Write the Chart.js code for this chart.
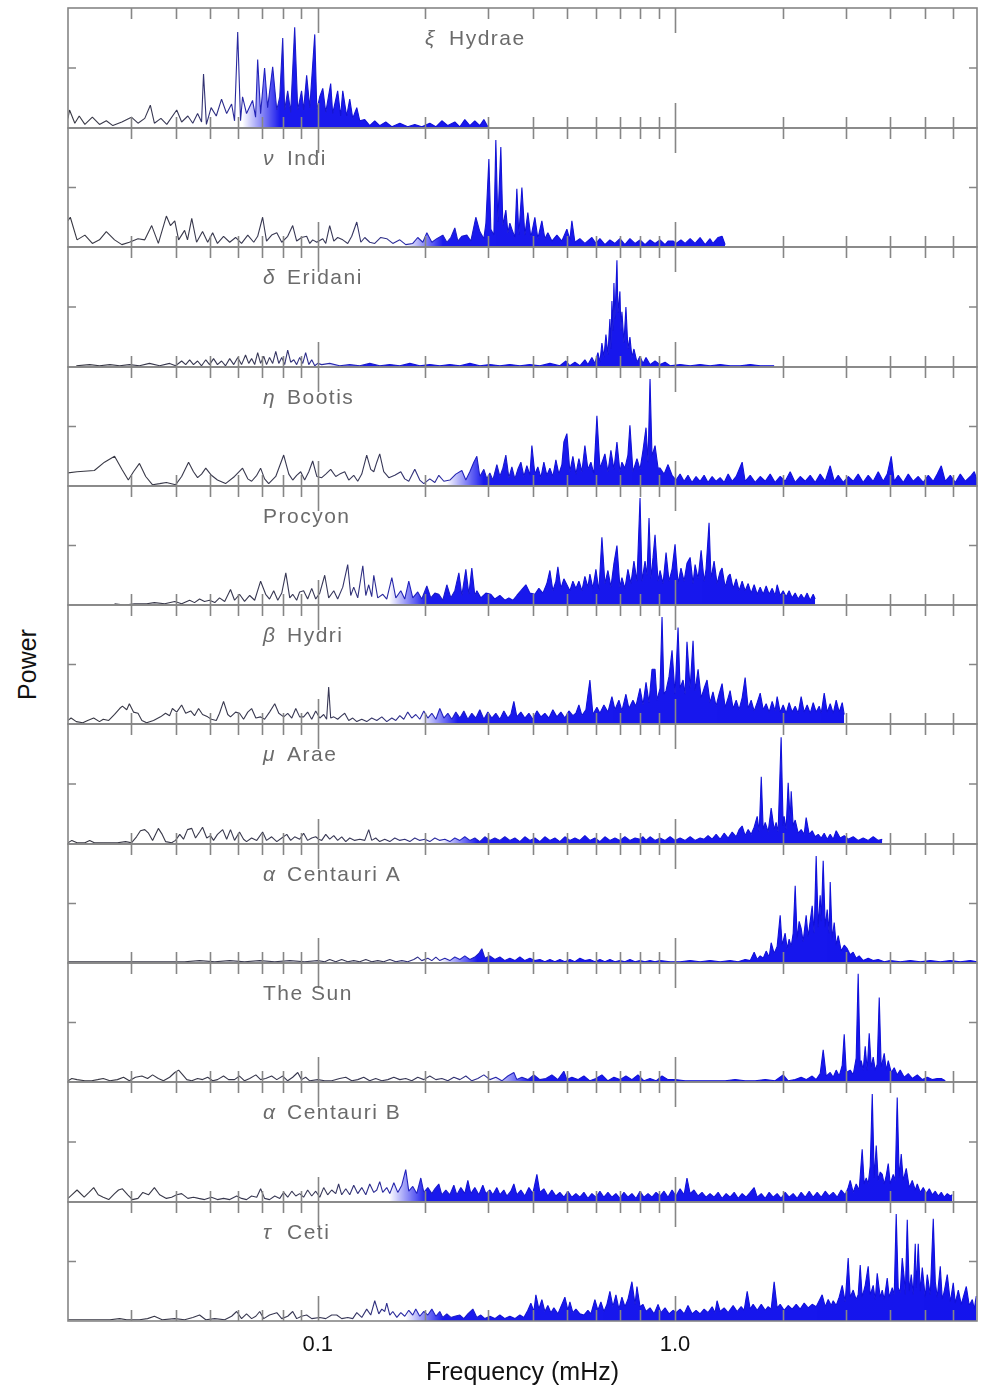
<!DOCTYPE html>
<html>
<head>
<meta charset="utf-8">
<script src="https://cdn.jsdelivr.net/npm/chart.js@4.4.1/dist/chart.umd.min.js"></script>
<style>
  body { margin: 0; background: #fff; }
  #wrap { position: relative; width: 986px; height: 1385px; background: #fff; overflow: hidden; }
  #wrap canvas { position: absolute; left: 0; }
  #power { position: absolute; left: -23px; top: 650px; width: 100px; line-height: 30px; text-align: center;
           transform: rotate(-90deg); font: 25px "Liberation Sans", Arial, sans-serif; color: #111; }
</style>
</head>
<body>
<div id="wrap"><div id="power">Power</div></div>
<script>
// frequency range (mHz) and tick marks
const freqMin = 0.02;
const freqMax = 7;
const minorTicks = [0.03, 0.04, 0.05, 0.06, 0.07, 0.08, 0.09, 0.2, 0.3, 0.4, 0.5, 0.6, 0.7, 0.8, 0.9, 2, 3, 4, 5, 6];
const majorTicks = [0.1, 1];
const tickLabels = ['0.1', '1.0'];

// spectra: [frequency mHz, power (0-100 of panel height)]
const xiHydrae = [[0.0200,8],[0.0202,15],[0.0209,4],[0.0215,10],[0.0223,3],[0.0234,9],[0.0245,3],[0.0256,6],[0.0267,2],[0.0283,5],[0.0301,9],[0.0314,4],[0.0328,8],[0.0340,19],[0.0349,4],[0.0364,8],[0.0378,3],[0.0403,15],[0.0416,5],[0.0433,10],[0.0447,4],[0.0461,12],[0.0473,5],[0.0479,45],[0.0488,3],[0.0503,17],[0.0520,10],[0.0538,24],[0.0556,12],[0.0574,20],[0.0585,6],[0.0597,80],[0.0608,6],[0.0616,26],[0.0632,12],[0.0657,23],[0.0670,9],[0.0679,57],[0.0692,12],[0.0710,50],[0.0724,17],[0.0748,51],[0.0768,15],[0.0783,26],[0.0798,75],[0.0808,15],[0.0824,31],[0.0840,13],[0.0862,84],[0.0879,15],[0.0901,31],[0.0913,15],[0.0931,44],[0.0950,17],[0.0981,78],[0.0994,15],[0.1013,26],[0.1033,33],[0.1053,13],[0.1087,37],[0.1101,12],[0.1137,31],[0.1159,10],[0.1175,31],[0.1205,10],[0.1229,24],[0.1253,8],[0.1286,17],[0.1311,6],[0.1354,7],[0.1398,2],[0.1444,6],[0.1491,2],[0.1550,5],[0.1612,1],[0.1697,4],[0.1786,1],[0.1869,3],[0.1955,1],[0.2059,4],[0.2141,1],[0.2225,6],[0.2313,2],[0.2419,5],[0.2499,1],[0.2580,7],[0.2665,2],[0.2752,6],[0.2842,2],[0.2917,7],[0.2993,1]];

const nuIndi = [[0.0200,22],[0.0203,25],[0.0212,6],[0.0223,10],[0.0234,3],[0.0245,6],[0.0256,13],[0.0270,6],[0.0283,2],[0.0297,4],[0.0314,7],[0.0328,6],[0.0343,18],[0.0358,3],[0.0377,26],[0.0387,18],[0.0398,22],[0.0408,6],[0.0424,14],[0.0432,6],[0.0444,24],[0.0458,4],[0.0476,13],[0.0492,4],[0.0508,12],[0.0524,3],[0.0545,9],[0.0567,4],[0.0589,8],[0.0612,3],[0.0637,10],[0.0662,4],[0.0679,9],[0.0701,25],[0.0719,5],[0.0743,10],[0.0768,12],[0.0793,4],[0.0824,9],[0.0851,18],[0.0873,5],[0.0901,8],[0.0931,9],[0.0950,3],[0.0968,6],[0.0994,4],[0.1033,7],[0.1053,3],[0.1080,18],[0.1109,5],[0.1137,8],[0.1175,6],[0.1213,3],[0.1245,9],[0.1286,21],[0.1320,4],[0.1354,8],[0.1398,4],[0.1444,3],[0.1501,8],[0.1560,7],[0.1622,3],[0.1697,6],[0.1763,2],[0.1845,3],[0.1905,8],[0.1968,4],[0.2020,12],[0.2086,4],[0.2154,7],[0.2239,10],[0.2298,4],[0.2358,8],[0.2419,16],[0.2467,5],[0.2531,9],[0.2614,10],[0.2682,5],[0.2770,25],[0.2842,13],[0.2917,7],[0.2955,20],[0.3013,74],[0.3051,15],[0.3111,10],[0.3151,90],[0.3192,21],[0.3254,84],[0.3297,18],[0.3361,31],[0.3405,12],[0.3449,20],[0.3494,15],[0.3562,8],[0.3608,49],[0.3655,10],[0.3727,50],[0.3799,10],[0.3873,29],[0.3949,8],[0.4052,25],[0.4131,7],[0.4239,22],[0.4322,7],[0.4406,12],[0.4522,5],[0.4670,10],[0.4823,5],[0.4981,15],[0.5078,6],[0.5144,22],[0.5245,4],[0.5416,7],[0.5594,3],[0.5852,8],[0.6005,3],[0.6162,7],[0.6364,2],[0.6572,6],[0.6788,3],[0.7010,7],[0.7240,2],[0.7477,7],[0.7727,3],[0.7980,6],[0.8241,2],[0.8511,6],[0.8790,3],[0.9078,6],[0.9376,2],[0.9558,5],[0.9872,5],[1.0065,3],[1.039,6],[1.067,3],[1.102,7],[1.138,3],[1.175,8],[1.214,2],[1.253,7],[1.277,3],[1.320,8],[1.354,9],[1.381,2]];

const deltaEridani = [[0.0211,1],[0.0230,2],[0.0245,1],[0.0262,2],[0.0279,1],[0.0297,2],[0.0317,1],[0.0338,3],[0.0361,1],[0.0385,3],[0.0400,1],[0.0416,5],[0.0427,2],[0.0438,6],[0.0449,2],[0.0461,5],[0.0473,1],[0.0486,6],[0.0498,2],[0.0511,7],[0.0524,2],[0.0538,5],[0.0552,1],[0.0567,7],[0.0582,2],[0.0597,8],[0.0612,2],[0.0628,10],[0.0641,3],[0.0653,7],[0.0666,2],[0.0679,12],[0.0692,3],[0.0706,9],[0.0719,2],[0.0733,8],[0.0748,3],[0.0763,13],[0.0778,3],[0.0793,8],[0.0808,2],[0.0824,14],[0.0840,4],[0.0857,6],[0.0873,2],[0.0890,8],[0.0908,3],[0.0925,12],[0.0944,2],[0.0962,6],[0.0981,1],[0.1000,3],[0.1026,2],[0.1080,3],[0.1152,1],[0.1229,2],[0.1311,1],[0.1398,3],[0.1491,1],[0.1591,2],[0.1697,1],[0.1810,3],[0.1930,1],[0.2059,2],[0.2196,1],[0.2343,2],[0.2499,1],[0.2665,3],[0.2842,1],[0.3032,2],[0.3234,1],[0.3449,2],[0.3679,1],[0.3924,2],[0.4185,1],[0.4464,3],[0.4761,1],[0.4949,5],[0.5078,1],[0.5245,4],[0.5416,1],[0.5594,6],[0.5703,2],[0.5852,8],[0.5966,3],[0.6083,12],[0.6162,4],[0.6242,20],[0.6323,8],[0.6406,27],[0.6489,10],[0.6572,40],[0.6615,15],[0.6658,55],[0.6701,30],[0.6745,70],[0.6788,40],[0.6877,89],[0.6921,45],[0.7010,63],[0.7056,30],[0.7101,46],[0.7194,20],[0.7287,50],[0.7381,15],[0.7477,25],[0.7574,8],[0.7673,15],[0.7824,4],[0.7980,9],[0.8135,3],[0.8294,8],[0.8511,2],[0.8790,5],[0.9078,2],[0.9376,4],[0.9683,1],[1.033,2],[1.102,1],[1.175,2],[1.253,1],[1.337,2],[1.426,1],[1.521,1],[1.623,2],[1.731,1],[1.894,1]];

const etaBootis = [[0.0200,11],[0.0212,12],[0.0237,13],[0.0253,20],[0.0270,25],[0.0283,14],[0.0295,5],[0.0305,12],[0.0317,19],[0.0330,8],[0.0345,1],[0.0361,2],[0.0377,3],[0.0400,1],[0.0416,8],[0.0435,20],[0.0449,12],[0.0461,7],[0.0473,10],[0.0486,15],[0.0504,9],[0.0524,5],[0.0552,2],[0.0585,8],[0.0616,15],[0.0637,6],[0.0653,4],[0.0675,9],[0.0692,15],[0.0710,6],[0.0729,2],[0.0763,8],[0.0803,26],[0.0830,10],[0.0851,5],[0.0873,9],[0.0896,12],[0.0919,5],[0.0944,12],[0.0968,21],[0.0994,8],[0.1026,7],[0.1053,10],[0.1087,14],[0.1123,8],[0.1152,10],[0.1190,12],[0.1221,5],[0.1261,9],[0.1294,4],[0.1328,10],[0.1371,26],[0.1407,14],[0.1435,12],[0.1463,20],[0.1491,27],[0.1530,12],[0.1581,7],[0.1643,9],[0.1708,12],[0.1752,6],[0.1798,4],[0.1869,14],[0.1930,5],[0.1981,2],[0.2059,6],[0.2127,3],[0.2182,9],[0.2254,4],[0.2343,5],[0.2435,10],[0.2531,13],[0.2597,5],[0.2665,12],[0.2734,20],[0.2788,25],[0.2842,8],[0.2917,14],[0.2974,6],[0.3032,11],[0.3091,5],[0.3172,18],[0.3234,8],[0.3297,15],[0.3361,26],[0.3427,7],[0.3494,16],[0.3562,6],[0.3631,14],[0.3703,20],[0.3775,8],[0.3849,17],[0.3924,9],[0.3975,34],[0.4052,10],[0.4131,16],[0.4212,7],[0.4294,20],[0.4378,9],[0.4464,15],[0.4551,8],[0.4640,22],[0.4730,10],[0.4823,18],[0.4885,37],[0.4981,44],[0.5078,12],[0.5177,25],[0.5279,10],[0.5382,23],[0.5487,12],[0.5594,34],[0.5703,14],[0.5815,20],[0.5928,10],[0.6044,59],[0.6162,15],[0.6282,22],[0.6364,27],[0.6489,12],[0.6615,30],[0.6745,14],[0.6877,37],[0.7010,12],[0.7101,20],[0.7240,15],[0.7381,26],[0.7477,51],[0.7624,12],[0.7824,23],[0.7980,14],[0.8135,30],[0.8294,49],[0.8402,20],[0.8511,90],[0.8621,25],[0.8790,34],[0.8962,15],[0.9078,15],[0.9316,10],[0.9558,18],[0.9808,9],[1.0065,5],[1.033,10],[1.060,4],[1.087,9],[1.116,3],[1.145,8],[1.175,4],[1.206,9],[1.237,3],[1.270,8],[1.303,4],[1.337,7],[1.372,3],[1.408,10],[1.445,4],[1.483,8],[1.541,20],[1.571,4],[1.623,9],[1.676,3],[1.731,8],[1.788,4],[1.846,10],[1.906,3],[1.969,8],[2.033,4],[2.100,12],[2.169,3],[2.240,8],[2.313,4],[2.389,9],[2.467,3],[2.548,10],[2.632,4],[2.718,17],[2.789,4],[2.862,9],[2.956,3],[3.052,8],[3.152,4],[3.255,10],[3.362,3],[3.472,9],[3.586,4],[3.704,12],[3.825,4],[3.925,10],[4.028,25],[4.106,4],[4.213,9],[4.352,3],[4.495,10],[4.642,4],[4.794,8],[4.951,3],[5.113,9],[5.281,4],[5.418,10],[5.561,17],[5.706,4],[5.893,9],[6.086,3],[6.286,10],[6.492,4],[6.704,8],[6.879,12],[7.0,5]];

const procyon = [[0.0270,1],[0.0288,0],[0.0307,1],[0.0332,1],[0.0349,2],[0.0373,1],[0.0398,3],[0.0416,1],[0.0438,4],[0.0452,2],[0.0467,5],[0.0482,3],[0.0498,4],[0.0515,2],[0.0531,6],[0.0549,3],[0.0570,13],[0.0585,4],[0.0604,9],[0.0624,3],[0.0645,8],[0.0666,4],[0.0692,20],[0.0715,9],[0.0733,5],[0.0753,12],[0.0773,4],[0.0793,10],[0.0814,27],[0.0835,6],[0.0851,9],[0.0873,4],[0.0890,11],[0.0913,12],[0.0937,5],[0.0962,14],[0.0987,5],[0.1013,10],[0.1046,25],[0.1073,6],[0.1109,12],[0.1137,5],[0.1175,15],[0.1213,34],[0.1237,8],[0.1261,15],[0.1294,6],[0.1337,33],[0.1363,8],[0.1389,17],[0.1416,7],[0.1435,25],[0.1472,6],[0.1521,9],[0.1560,5],[0.1612,23],[0.1654,6],[0.1708,12],[0.1752,5],[0.1798,20],[0.1845,6],[0.1905,11],[0.1955,5],[0.2020,16],[0.2072,6],[0.2127,10],[0.2182,9],[0.2239,4],[0.2298,17],[0.2358,6],[0.2419,12],[0.2483,27],[0.2531,8],[0.2597,30],[0.2648,9],[0.2699,31],[0.2752,8],[0.2788,12],[0.2860,6],[0.2955,10],[0.3051,9],[0.3131,5],[0.3234,8],[0.3340,4],[0.3427,6],[0.3517,4],[0.3608,8],[0.3703,12],[0.3824,17],[0.3924,10],[0.4052,9],[0.4158,14],[0.4267,10],[0.4378,18],[0.4464,29],[0.4551,12],[0.4640,20],[0.4700,32],[0.4792,14],[0.4885,22],[0.4981,17],[0.5078,12],[0.5177,20],[0.5279,14],[0.5382,20],[0.5487,12],[0.5594,24],[0.5703,15],[0.5777,26],[0.5889,14],[0.6005,30],[0.6122,12],[0.6242,57],[0.6364,18],[0.6489,29],[0.6615,15],[0.6745,35],[0.6877,50],[0.7010,15],[0.7101,23],[0.7240,14],[0.7381,30],[0.7525,18],[0.7673,37],[0.7824,20],[0.7980,90],[0.8083,20],[0.8241,37],[0.8348,25],[0.8456,73],[0.8566,22],[0.8677,40],[0.8790,59],[0.8962,20],[0.9078,29],[0.9256,18],[0.9437,44],[0.9621,20],[0.9808,30],[1.0000,51],[1.0195,18],[1.039,31],[1.060,20],[1.080,35],[1.102,40],[1.123,18],[1.138,34],[1.160,22],[1.183,46],[1.206,20],[1.221,30],[1.245,69],[1.261,22],[1.286,37],[1.311,18],[1.337,28],[1.354,31],[1.381,15],[1.408,24],[1.426,26],[1.454,14],[1.483,22],[1.511,12],[1.541,20],[1.571,12],[1.602,18],[1.633,10],[1.665,17],[1.698,9],[1.731,15],[1.765,9],[1.799,16],[1.834,9],[1.870,14],[1.906,8],[1.931,17],[1.969,8],[2.007,12],[2.046,7],[2.086,12],[2.127,6],[2.169,10],[2.211,5],[2.254,9],[2.298,5],[2.343,10],[2.389,4],[2.436,9],[2.467,5]];

const betaHydri = [[0.0200,3],[0.0204,5],[0.0211,2],[0.0220,1],[0.0227,3],[0.0236,5],[0.0245,2],[0.0251,4],[0.0260,3],[0.0270,8],[0.0279,13],[0.0284,15],[0.0292,12],[0.0297,17],[0.0305,10],[0.0314,9],[0.0322,3],[0.0332,1],[0.0347,3],[0.0363,6],[0.0375,9],[0.0385,7],[0.0392,13],[0.0403,10],[0.0416,16],[0.0427,9],[0.0441,11],[0.0452,7],[0.0464,13],[0.0476,8],[0.0492,6],[0.0504,4],[0.0520,3],[0.0531,9],[0.0545,19],[0.0560,8],[0.0570,6],[0.0589,10],[0.0604,9],[0.0620,4],[0.0637,10],[0.0653,13],[0.0671,5],[0.0692,6],[0.0710,4],[0.0733,10],[0.0758,17],[0.0778,9],[0.0803,6],[0.0824,9],[0.0846,5],[0.0868,13],[0.0890,6],[0.0913,6],[0.0937,10],[0.0962,4],[0.0987,11],[0.1013,5],[0.1039,8],[0.1059,4],[0.1073,31],[0.1087,5],[0.1109,6],[0.1137,4],[0.1167,7],[0.1190,9],[0.1221,3],[0.1253,5],[0.1286,2],[0.1328,4],[0.1371,2],[0.1416,5],[0.1463,3],[0.1511,6],[0.1560,2],[0.1612,5],[0.1654,3],[0.1697,7],[0.1741,4],[0.1786,10],[0.1833,5],[0.1881,8],[0.1930,4],[0.1981,11],[0.2033,5],[0.2086,9],[0.2141,4],[0.2196,13],[0.2254,5],[0.2313,9],[0.2373,4],[0.2435,10],[0.2499,5],[0.2564,11],[0.2631,4],[0.2699,9],[0.2770,5],[0.2842,12],[0.2917,4],[0.2993,10],[0.3071,5],[0.3151,9],[0.3234,4],[0.3318,11],[0.3405,5],[0.3472,8],[0.3539,19],[0.3608,6],[0.3703,10],[0.3799,5],[0.3899,9],[0.4000,4],[0.4105,11],[0.4212,6],[0.4322,9],[0.4435,5],[0.4551,12],[0.4670,6],[0.4792,10],[0.4917,5],[0.5045,11],[0.5177,7],[0.5279,9],[0.5382,16],[0.5487,7],[0.5630,12],[0.5777,37],[0.5889,8],[0.6044,14],[0.6162,9],[0.6323,16],[0.6489,10],[0.6658,23],[0.6788,12],[0.6965,20],[0.7101,11],[0.7287,25],[0.7429,13],[0.7624,20],[0.7773,15],[0.7980,30],[0.8135,16],[0.8294,35],[0.8456,18],[0.8621,46],[0.8790,46],[0.8902,20],[0.9078,30],[0.9195,90],[0.9315,25],[0.9437,28],[0.9621,40],[0.9808,62],[1.0000,25],[1.0195,81],[1.033,30],[1.053,37],[1.067,25],[1.080,69],[1.102,30],[1.123,70],[1.138,28],[1.160,46],[1.183,22],[1.206,30],[1.229,37],[1.253,18],[1.277,27],[1.303,15],[1.328,25],[1.354,34],[1.381,14],[1.408,22],[1.426,28],[1.454,13],[1.483,20],[1.511,12],[1.541,22],[1.571,39],[1.602,13],[1.633,20],[1.665,11],[1.698,18],[1.731,26],[1.765,12],[1.799,17],[1.834,10],[1.870,19],[1.906,11],[1.931,23],[1.969,10],[2.007,16],[2.046,9],[2.086,18],[2.127,10],[2.169,15],[2.211,9],[2.254,23],[2.298,10],[2.343,16],[2.389,9],[2.436,18],[2.483,10],[2.532,15],[2.565,9],[2.615,26],[2.666,10],[2.718,17],[2.771,9],[2.825,20],[2.880,10],[2.937,18],[2.975,8]];

const muArae = [[0.0200,1],[0.0205,3],[0.0212,1],[0.0223,1],[0.0230,3],[0.0237,1],[0.0248,1],[0.0262,1],[0.0275,1],[0.0290,2],[0.0301,1],[0.0311,6],[0.0319,11],[0.0328,12],[0.0336,9],[0.0345,3],[0.0358,13],[0.0367,8],[0.0375,2],[0.0390,1],[0.0400,3],[0.0411,8],[0.0421,4],[0.0432,12],[0.0444,13],[0.0455,5],[0.0467,10],[0.0476,14],[0.0489,5],[0.0501,7],[0.0511,3],[0.0524,8],[0.0542,12],[0.0556,4],[0.0570,12],[0.0585,3],[0.0604,10],[0.0620,4],[0.0632,2],[0.0653,5],[0.0675,3],[0.0701,10],[0.0719,3],[0.0743,6],[0.0768,2],[0.0793,5],[0.0819,8],[0.0840,3],[0.0862,6],[0.0890,4],[0.0913,9],[0.0937,3],[0.0962,5],[0.0987,6],[0.1007,4],[0.1026,3],[0.1053,8],[0.1080,4],[0.1109,7],[0.1137,3],[0.1167,6],[0.1198,2],[0.1229,5],[0.1269,3],[0.1311,4],[0.1354,3],[0.1389,12],[0.1416,3],[0.1453,5],[0.1491,2],[0.1540,4],[0.1591,2],[0.1643,5],[0.1697,3],[0.1752,4],[0.1810,2],[0.1869,5],[0.1930,3],[0.1994,4],[0.2059,2],[0.2127,5],[0.2196,3],[0.2268,4],[0.2343,2],[0.2419,5],[0.2499,3],[0.2580,6],[0.2665,3],[0.2752,5],[0.2842,2],[0.2936,6],[0.3032,3],[0.3131,5],[0.3234,3],[0.3340,6],[0.3449,3],[0.3562,5],[0.3679,2],[0.3799,6],[0.3924,3],[0.4052,5],[0.4185,2],[0.4322,6],[0.4464,3],[0.4610,5],[0.4761,2],[0.4917,6],[0.5078,3],[0.5245,5],[0.5416,3],[0.5594,7],[0.5777,3],[0.5966,5],[0.6162,2],[0.6364,6],[0.6572,3],[0.6788,5],[0.7010,3],[0.7240,6],[0.7477,3],[0.7727,5],[0.7980,4],[0.8135,6],[0.8294,3],[0.8511,6],[0.8790,3],[0.9078,5],[0.9376,3],[0.9683,6],[1.0000,3],[1.033,5],[1.067,3],[1.102,6],[1.138,3],[1.175,5],[1.206,4],[1.237,7],[1.270,4],[1.303,8],[1.337,4],[1.372,9],[1.408,5],[1.445,10],[1.483,6],[1.511,12],[1.541,15],[1.571,7],[1.602,12],[1.633,8],[1.665,14],[1.698,23],[1.720,10],[1.743,56],[1.765,12],[1.788,18],[1.822,10],[1.858,30],[1.894,12],[1.918,18],[1.943,10],[1.981,89],[2.007,15],[2.020,23],[2.046,12],[2.073,51],[2.100,20],[2.114,44],[2.141,15],[2.169,20],[2.211,9],[2.254,12],[2.298,8],[2.328,22],[2.374,8],[2.420,11],[2.467,6],[2.516,8],[2.565,5],[2.615,9],[2.666,4],[2.718,8],[2.771,4],[2.825,11],[2.899,5],[2.975,7],[3.052,4],[3.152,6],[3.255,3],[3.362,5],[3.472,3],[3.586,6],[3.704,3],[3.801,4]];

const alphaCenA = [[0.0200,1],[0.0215,1],[0.0237,1],[0.0262,1],[0.0288,1],[0.0317,1],[0.0349,1],[0.0385,1],[0.0424,1],[0.0467,2],[0.0515,1],[0.0567,2],[0.0624,1],[0.0688,2],[0.0758,1],[0.0835,2],[0.0919,1],[0.1000,2],[0.1046,1],[0.1080,3],[0.1123,1],[0.1167,3],[0.1213,1],[0.1261,2],[0.1311,1],[0.1363,3],[0.1416,1],[0.1472,2],[0.1530,1],[0.1591,3],[0.1654,1],[0.1719,2],[0.1786,1],[0.1857,3],[0.1905,5],[0.1955,2],[0.2033,4],[0.2086,2],[0.2141,5],[0.2196,2],[0.2268,4],[0.2343,2],[0.2419,5],[0.2499,3],[0.2580,6],[0.2665,3],[0.2752,5],[0.2824,8],[0.2879,12],[0.2936,4],[0.3032,6],[0.3131,3],[0.3234,5],[0.3340,2],[0.3449,4],[0.3562,2],[0.3679,5],[0.3799,2],[0.3924,4],[0.4052,2],[0.4185,3],[0.4322,1],[0.4464,3],[0.4610,1],[0.4761,3],[0.4917,1],[0.5078,3],[0.5245,1],[0.5416,4],[0.5594,2],[0.5777,3],[0.5966,1],[0.6162,3],[0.6364,1],[0.6572,3],[0.6788,1],[0.7010,2],[0.7240,1],[0.7477,3],[0.7727,1],[0.7980,2],[0.8241,1],[0.8511,2],[0.8790,1],[0.9078,2],[0.9683,1],[1.033,1],[1.102,2],[1.175,1],[1.253,2],[1.337,1],[1.426,2],[1.502,1],[1.571,3],[1.623,2],[1.665,9],[1.698,3],[1.731,6],[1.765,4],[1.799,10],[1.834,5],[1.858,17],[1.894,8],[1.931,14],[1.969,40],[1.994,15],[2.033,25],[2.060,12],[2.086,20],[2.114,14],[2.141,25],[2.169,65],[2.197,20],[2.225,35],[2.254,29],[2.283,18],[2.328,40],[2.358,22],[2.389,35],[2.420,48],[2.451,25],[2.483,90],[2.516,30],[2.548,57],[2.565,35],[2.598,86],[2.632,30],[2.666,45],[2.701,25],[2.718,68],[2.754,20],[2.789,34],[2.825,15],[2.862,23],[2.918,10],[2.975,15],[3.033,12],[3.092,7],[3.152,9],[3.213,4],[3.276,6],[3.362,2],[3.472,4],[3.586,2],[3.704,3],[3.850,1],[4.002,2],[4.268,1],[4.553,2],[4.857,1],[5.180,2],[5.525,1],[5.893,2],[6.286,1],[6.704,2],[7.0,1]];

const sun = [[0.0200,1],[0.0205,3],[0.0212,2],[0.0223,1],[0.0233,1],[0.0242,2],[0.0251,3],[0.0262,1],[0.0275,2],[0.0286,4],[0.0297,1],[0.0309,4],[0.0322,5],[0.0334,3],[0.0345,6],[0.0358,3],[0.0370,1],[0.0385,4],[0.0398,8],[0.0408,10],[0.0419,6],[0.0430,2],[0.0444,1],[0.0461,3],[0.0476,2],[0.0492,4],[0.0508,1],[0.0524,2],[0.0545,5],[0.0563,2],[0.0585,2],[0.0604,5],[0.0624,1],[0.0645,3],[0.0671,6],[0.0692,2],[0.0715,3],[0.0743,5],[0.0768,2],[0.0798,5],[0.0824,1],[0.0851,4],[0.0879,8],[0.0901,2],[0.0925,4],[0.0950,1],[0.1000,2],[0.1046,1],[0.1094,1],[0.1152,3],[0.1198,4],[0.1245,1],[0.1294,2],[0.1345,4],[0.1398,1],[0.1453,3],[0.1511,1],[0.1571,2],[0.1633,4],[0.1697,2],[0.1763,3],[0.1833,1],[0.1905,4],[0.1981,2],[0.2059,5],[0.2141,2],[0.2225,3],[0.2313,1],[0.2404,4],[0.2499,2],[0.2597,5],[0.2699,1],[0.2806,3],[0.2917,6],[0.3032,2],[0.3151,4],[0.3276,1],[0.3405,5],[0.3539,8],[0.3608,2],[0.3727,4],[0.3873,2],[0.4026,6],[0.4185,2],[0.4350,3],[0.4522,6],[0.4700,2],[0.4885,9],[0.4981,2],[0.5144,4],[0.5347,2],[0.5558,5],[0.5777,1],[0.6005,3],[0.6242,6],[0.6489,1],[0.6745,4],[0.7010,2],[0.7287,5],[0.7574,2],[0.7874,6],[0.8188,1],[0.8511,3],[0.8847,1],[0.9195,5],[0.9558,2],[1.0000,2],[1.067,1],[1.138,1],[1.214,1],[1.294,1],[1.381,1],[1.473,2],[1.571,1],[1.676,1],[1.788,2],[1.906,1],[2.007,6],[2.073,1],[2.169,2],[2.254,4],[2.328,2],[2.420,5],[2.483,2],[2.548,7],[2.598,27],[2.649,5],[2.718,8],[2.771,4],[2.825,10],[2.880,5],[2.937,14],[2.975,40],[3.014,8],[3.092,10],[3.152,6],[3.213,20],[3.255,91],[3.298,12],[3.319,18],[3.362,10],[3.406,30],[3.450,10],[3.495,41],[3.541,12],[3.586,21],[3.633,10],[3.680,15],[3.728,71],[3.776,12],[3.850,24],[3.900,10],[3.951,18],[4.028,8],[4.106,12],[4.186,6],[4.268,10],[4.380,4],[4.495,7],[4.612,3],[4.764,6],[4.921,2],[5.081,4],[5.247,2],[5.418,3],[5.561,3],[5.706,1]];

const alphaCenB = [[0.0200,3],[0.0205,6],[0.0212,10],[0.0222,4],[0.0229,8],[0.0236,12],[0.0243,6],[0.0251,4],[0.0260,2],[0.0270,7],[0.0277,10],[0.0284,11],[0.0294,6],[0.0303,2],[0.0314,3],[0.0324,8],[0.0336,6],[0.0349,12],[0.0361,6],[0.0377,3],[0.0390,4],[0.0403,6],[0.0416,7],[0.0433,3],[0.0449,4],[0.0464,3],[0.0482,2],[0.0504,4],[0.0524,2],[0.0545,3],[0.0567,2],[0.0593,5],[0.0612,3],[0.0632,2],[0.0653,5],[0.0675,4],[0.0692,11],[0.0710,3],[0.0733,2],[0.0758,5],[0.0783,3],[0.0803,8],[0.0824,4],[0.0846,9],[0.0868,5],[0.0890,7],[0.0913,4],[0.0937,10],[0.0962,5],[0.0987,9],[0.1013,4],[0.1039,12],[0.1066,6],[0.1094,10],[0.1123,7],[0.1144,15],[0.1167,6],[0.1198,11],[0.1229,6],[0.1261,14],[0.1294,7],[0.1328,12],[0.1363,6],[0.1398,15],[0.1435,8],[0.1463,10],[0.1491,17],[0.1520,8],[0.1560,12],[0.1591,7],[0.1633,16],[0.1675,8],[0.1719,14],[0.1763,27],[0.1798,9],[0.1845,13],[0.1893,7],[0.1943,20],[0.1981,8],[0.2033,12],[0.2086,7],[0.2127,11],[0.2182,15],[0.2225,6],[0.2283,10],[0.2343,6],[0.2404,14],[0.2451,6],[0.2515,12],[0.2580,7],[0.2631,18],[0.2682,7],[0.2752,12],[0.2824,6],[0.2898,14],[0.2955,7],[0.3032,10],[0.3091,6],[0.3172,12],[0.3234,6],[0.3318,10],[0.3383,5],[0.3472,9],[0.3539,15],[0.3608,6],[0.3703,10],[0.3799,5],[0.3899,12],[0.4000,7],[0.4105,23],[0.4185,8],[0.4294,11],[0.4406,5],[0.4522,10],[0.4640,5],[0.4761,8],[0.4885,4],[0.5013,9],[0.5144,4],[0.5279,7],[0.5416,4],[0.5558,8],[0.5703,3],[0.5852,7],[0.6005,4],[0.6162,9],[0.6323,4],[0.6489,8],[0.6658,4],[0.6832,7],[0.7010,3],[0.7194,8],[0.7381,4],[0.7574,7],[0.7773,3],[0.7980,9],[0.8188,4],[0.8402,7],[0.8621,4],[0.8847,8],[0.9078,5],[0.9316,9],[0.9558,4],[0.9808,10],[1.0065,5],[1.033,11],[1.060,6],[1.080,20],[1.102,7],[1.130,10],[1.160,5],[1.190,8],[1.221,4],[1.253,7],[1.286,4],[1.320,8],[1.354,3],[1.390,7],[1.426,4],[1.464,8],[1.502,3],[1.541,7],[1.581,4],[1.623,8],[1.665,12],[1.698,4],[1.743,7],[1.788,3],[1.834,8],[1.882,4],[1.931,7],[1.981,3],[2.033,8],[2.086,4],[2.141,7],[2.197,3],[2.254,8],[2.313,4],[2.374,9],[2.436,4],[2.499,8],[2.565,4],[2.632,9],[2.701,5],[2.771,8],[2.843,4],[2.918,10],[2.994,6],[3.052,12],[3.092,18],[3.152,8],[3.213,15],[3.276,10],[3.340,44],[3.384,15],[3.428,20],[3.472,15],[3.518,30],[3.564,90],[3.610,20],[3.657,47],[3.704,18],[3.752,25],[3.801,23],[3.850,15],[3.900,22],[3.951,32],[4.002,15],[4.080,23],[4.133,18],[4.186,87],[4.241,20],[4.296,40],[4.352,18],[4.437,28],[4.524,12],[4.612,18],[4.702,10],[4.763,15],[4.857,8],[4.951,12],[5.048,7],[5.147,11],[5.247,6],[5.350,9],[5.454,5],[5.561,8],[5.669,4],[5.780,7],[5.893,5],[5.970,6]];

const tauCeti = [[0.0200,1],[0.0215,1],[0.0237,1],[0.0262,1],[0.0279,2],[0.0292,1],[0.0317,1],[0.0334,2],[0.0349,4],[0.0367,1],[0.0398,2],[0.0424,1],[0.0447,3],[0.0467,5],[0.0486,1],[0.0515,2],[0.0549,1],[0.0574,4],[0.0593,8],[0.0612,2],[0.0632,6],[0.0653,2],[0.0671,4],[0.0688,8],[0.0706,2],[0.0733,5],[0.0768,7],[0.0793,2],[0.0824,4],[0.0851,8],[0.0873,2],[0.0901,4],[0.0931,5],[0.0962,2],[0.1013,3],[0.1053,2],[0.1094,5],[0.1130,5],[0.1167,2],[0.1213,3],[0.1253,2],[0.1286,7],[0.1328,3],[0.1371,10],[0.1407,5],[0.1444,17],[0.1482,6],[0.1511,10],[0.1540,8],[0.1560,15],[0.1591,5],[0.1622,8],[0.1665,3],[0.1708,7],[0.1752,4],[0.1798,9],[0.1845,5],[0.1881,10],[0.1930,4],[0.1981,8],[0.2033,5],[0.2086,10],[0.2141,4],[0.2196,8],[0.2239,3],[0.2298,6],[0.2358,3],[0.2419,4],[0.2499,5],[0.2564,2],[0.2631,6],[0.2717,10],[0.2788,3],[0.2860,5],[0.2936,2],[0.3032,4],[0.3131,2],[0.3234,5],[0.3340,2],[0.3449,4],[0.3562,2],[0.3679,5],[0.3775,3],[0.3873,9],[0.3949,15],[0.4026,8],[0.4079,22],[0.4158,10],[0.4239,18],[0.4322,8],[0.4406,13],[0.4493,7],[0.4580,11],[0.4700,6],[0.4823,14],[0.4917,20],[0.5013,9],[0.5078,16],[0.5177,7],[0.5279,10],[0.5416,6],[0.5558,5],[0.5703,9],[0.5815,6],[0.5966,18],[0.6083,9],[0.6202,16],[0.6323,8],[0.6447,14],[0.6572,25],[0.6701,12],[0.6832,22],[0.6965,10],[0.7101,20],[0.7240,12],[0.7381,18],[0.7574,33],[0.7727,14],[0.7824,29],[0.7980,12],[0.8135,14],[0.8294,8],[0.8511,11],[0.8734,6],[0.8962,14],[0.9136,7],[0.9376,11],[0.9621,6],[0.9872,9],[1.0065,7],[1.033,10],[1.060,6],[1.087,13],[1.116,6],[1.145,9],[1.175,6],[1.206,10],[1.237,7],[1.270,12],[1.294,7],[1.311,17],[1.337,8],[1.372,11],[1.408,7],[1.454,13],[1.492,8],[1.531,12],[1.561,9],[1.592,25],[1.623,10],[1.654,14],[1.698,9],[1.743,14],[1.788,9],[1.822,12],[1.858,10],[1.894,33],[1.931,11],[1.969,14],[2.020,9],[2.073,13],[2.127,10],[2.183,14],[2.240,10],[2.298,15],[2.358,11],[2.420,14],[2.483,12],[2.532,17],[2.581,22],[2.632,12],[2.683,18],[2.736,13],[2.771,17],[2.825,13],[2.880,20],[2.937,30],[2.994,16],[3.052,53],[3.092,20],[3.152,26],[3.213,18],[3.255,22],[3.298,47],[3.340,20],[3.406,30],[3.472,46],[3.518,22],[3.586,30],[3.633,18],[3.680,40],[3.752,20],[3.801,26],[3.850,18],[3.925,36],[3.976,20],[4.054,28],[4.106,22],[4.159,90],[4.213,28],[4.268,24],[4.324,53],[4.380,36],[4.409,22],[4.466,85],[4.524,25],[4.583,39],[4.642,22],[4.702,65],[4.733,28],[4.794,65],[4.857,25],[4.920,45],[5.015,20],[5.081,39],[5.180,22],[5.281,86],[5.350,33],[5.418,20],[5.525,46],[5.597,18],[5.669,25],[5.780,39],[5.893,16],[6.007,32],[6.086,15],[6.205,26],[6.326,14],[6.408,20],[6.534,29],[6.660,13],[6.791,18],[6.879,10],[6.967,21]];

// blueFrom: frequency (mHz) where the trace turns from grey to blue
const panels = [
  { label: 'ξ Hydrae', data: xiHydrae, labelX: 425, blueFrom: 0.07 },
  { label: 'ν Indi', data: nuIndi, labelX: 263, blueFrom: 0.2 },
  { label: 'δ Eridani', data: deltaEridani, labelX: 263, blueFrom: 0.12 },
  { label: 'η Bootis', data: etaBootis, labelX: 263, blueFrom: 0.26 },
  { label: 'Procyon', data: procyon, labelX: 263, blueFrom: 0.18 },
  { label: 'β Hydri', data: betaHydri, labelX: 263, blueFrom: 0.22 },
  { label: 'μ Arae', data: muArae, labelX: 263, blueFrom: 0.25 },
  { label: 'α Centauri A', data: alphaCenA, labelX: 263, blueFrom: 0.25 },
  { label: 'The Sun', data: sun, labelX: 263, blueFrom: 0.35 },
  { label: 'α Centauri B', data: alphaCenB, labelX: 263, blueFrom: 0.18 },
  { label: 'τ Ceti', data: tauCeti, labelX: 263, blueFrom: 0.2 }
];

// page layout: panel edges in px
const panelTops = [8, 128, 247, 367, 486, 605, 724, 844, 963, 1082, 1202, 1321];
const pageHeight = 1385;
const labelFont = '"Liberation Sans", Arial, sans-serif';

function lineStops(b) {
  return [[0.02, '#383842'], [b * 0.6, '#383858'], [b, '#2222c0'], [b * 1.6, '#1212d6'], [7, '#1010dc']];
}
function fillStops(b) {
  return [[0.02, 'rgba(0,0,235,0)'], [b * 0.88, 'rgba(0,0,235,0)'], [b * 1.12, 'rgba(0,0,235,0.9)'], [7, 'rgba(0,0,235,0.92)']];
}

function freqGradient(chart, stops) {
  const area = chart.chartArea;
  const x = chart.scales.x;
  const g = chart.ctx.createLinearGradient(area.left, 0, area.right, 0);
  stops.forEach(([f, c]) => {
    const t = (x.getPixelForValue(f) - area.left) / (area.right - area.left);
    g.addColorStop(Math.min(1, Math.max(0, t)), c);
  });
  return g;
}

// frame, inward ticks and star name
const panelFrame = {
  id: 'panelFrame',
  afterDatasetsDraw(chart, args, opts) {
    const { ctx, chartArea: a, scales: { x, y } } = chart;
    ctx.save();
    ctx.strokeStyle = '#868686';
    ctx.lineWidth = 1.6;
    ctx.strokeRect(a.left, a.top, a.right - a.left, a.bottom - a.top);
    ctx.beginPath();
    const tick = (f, len) => {
      const px = Math.round(x.getPixelForValue(f)) + 0.5;
      ctx.moveTo(px, a.top); ctx.lineTo(px, a.top + len);
      ctx.moveTo(px, a.bottom); ctx.lineTo(px, a.bottom - len);
    };
    minorTicks.forEach(f => tick(f, 11));
    majorTicks.forEach(f => tick(f, 25));
    const py = y.getPixelForValue(50);
    ctx.moveTo(a.left, py); ctx.lineTo(a.left + 8, py);
    ctx.moveTo(a.right, py); ctx.lineTo(a.right - 8, py);
    ctx.stroke();

    ctx.fillStyle = '#6b6b6b';
    ctx.letterSpacing = '1.5px';
    ctx.textBaseline = 'alphabetic';
    const baseY = a.top + 37;
    const m = opts.label.match(/^([\u0370-\u03ff])\s(.+)$/);
    if (m) {
      ctx.font = 'italic 21px ' + labelFont;
      ctx.fillText(m[1], opts.labelX, baseY);
      ctx.font = '21px ' + labelFont;
      ctx.fillText(m[2], opts.labelX + 24, baseY);
    } else {
      ctx.font = '21px ' + labelFont;
      ctx.fillText(opts.label, opts.labelX, baseY);
    }
    ctx.restore();
  }
};

const wrap = document.getElementById('wrap');

panels.forEach((p, i) => {
  const last = i === panels.length - 1;
  const top = panelTops[i] - 2;
  const height = last ? pageHeight - top : panelTops[i + 1] - panelTops[i] + 4;
  const canvas = document.createElement('canvas');
  canvas.width = 986;
  canvas.height = height;
  canvas.style.top = top + 'px';
  canvas.style.width = '986px';
  canvas.style.height = height + 'px';
  wrap.appendChild(canvas);

  const xScale = {
    type: 'logarithmic',
    min: freqMin,
    max: freqMax,
    display: last
  };
  if (last) {
    Object.assign(xScale, {
      afterBuildTicks: s => { s.ticks = majorTicks.map(v => ({ value: v })); },
      afterFit: s => { s.height = 64; },
      grid: { display: false, drawTicks: false },
      border: { display: false },
      ticks: {
        autoSkip: false,
        maxRotation: 0,
        padding: 11,
        color: '#111',
        font: { size: 22, family: labelFont },
        callback: v => tickLabels[majorTicks.indexOf(v)] ?? ''
      },
      title: {
        display: true,
        text: 'Frequency (mHz)',
        color: '#111',
        font: { size: 25, family: labelFont },
        padding: { top: 0, bottom: -3 }
      }
    });
  }

  new Chart(canvas, {
    type: 'line',
    data: {
      datasets: [{
        data: p.data.map(([f, v]) => ({ x: f, y: v })),
        borderWidth: 1.1,
        borderJoinStyle: 'bevel',
        pointRadius: 0,
        tension: 0,
        fill: 'origin',
        borderColor: c => c.chart.chartArea ? freqGradient(c.chart, lineStops(p.blueFrom)) : '#1414d6',
        backgroundColor: c => c.chart.chartArea ? freqGradient(c.chart, fillStops(p.blueFrom)) : 'rgba(0,0,235,0.9)'
      }]
    },
    options: {
      responsive: false,
      maintainAspectRatio: false,
      animation: false,
      events: [],
      layout: { padding: { left: 68, right: 9, top: 2, bottom: last ? 0 : 2 } },
      plugins: {
        legend: { display: false },
        tooltip: { enabled: false },
        panelFrame: { label: p.label, labelX: p.labelX }
      },
      scales: {
        x: xScale,
        y: { min: 0, max: 100, display: false }
      }
    },
    plugins: [panelFrame]
  });
});
</script>
</body>
</html>
